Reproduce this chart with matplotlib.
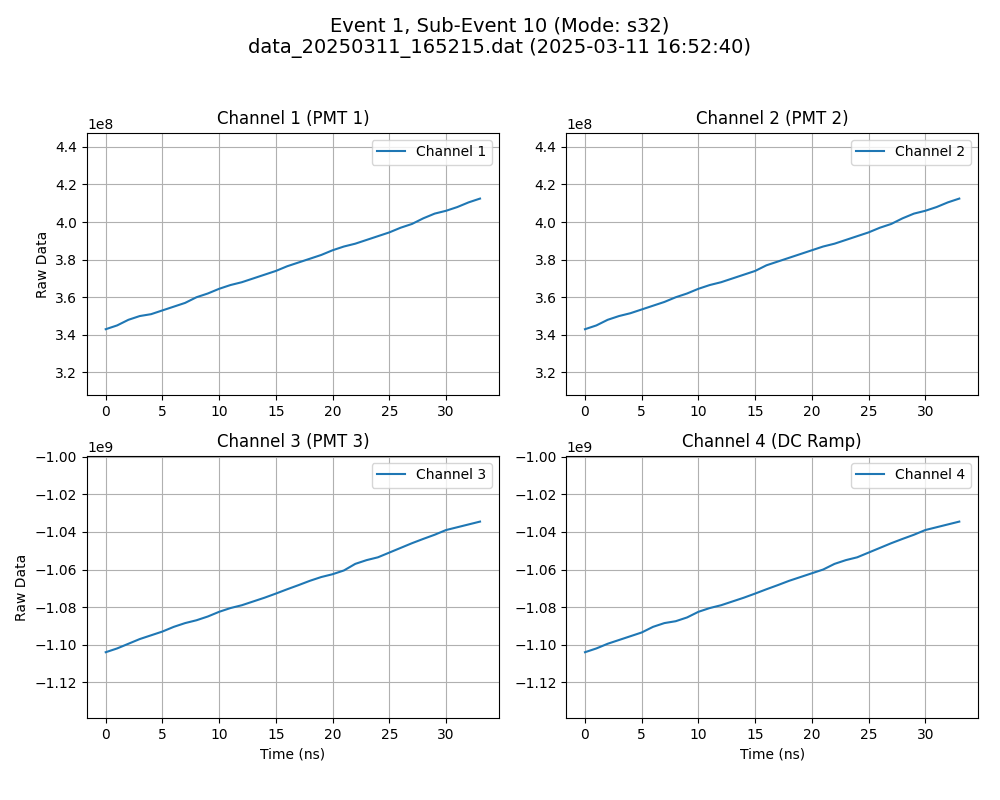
import matplotlib
matplotlib.use("Agg")
import matplotlib.pyplot as plt
import numpy as np

time_ns = list(range(34))
ch1 = [3.43, 3.45, 3.48, 3.50, 3.51, 3.53, 3.55, 3.57, 3.60, 3.62, 3.645, 3.665,
       3.68, 3.70, 3.72, 3.74, 3.765, 3.785, 3.805, 3.825, 3.85, 3.87, 3.885, 3.905,
       3.925, 3.945, 3.97, 3.99, 4.02, 4.045, 4.06, 4.08, 4.105, 4.125]
ch2 = [3.43, 3.45, 3.48, 3.50, 3.515, 3.535, 3.555, 3.575, 3.60, 3.62, 3.645, 3.665,
       3.68, 3.70, 3.72, 3.74, 3.77, 3.79, 3.81, 3.83, 3.85, 3.87, 3.885, 3.905,
       3.925, 3.945, 3.97, 3.99, 4.02, 4.045, 4.06, 4.08, 4.105, 4.125]
ch3 = [-1.104, -1.102, -1.0995, -1.097, -1.095, -1.093, -1.0905, -1.0885, -1.087,
       -1.085, -1.0825, -1.0805, -1.079, -1.077, -1.075, -1.0728, -1.0705, -1.0683,
       -1.066, -1.064, -1.0625, -1.0605, -1.057, -1.055, -1.0535, -1.051, -1.0485,
       -1.046, -1.0437, -1.0415, -1.039, -1.0375, -1.036, -1.0345]
ch4 = [-1.104, -1.102, -1.0995, -1.0975, -1.0955, -1.0935, -1.0905, -1.0885, -1.0875,
       -1.0855, -1.0825, -1.0805, -1.079, -1.077, -1.075, -1.0728, -1.0705, -1.0683,
       -1.066, -1.064, -1.062, -1.06, -1.057, -1.055, -1.0535, -1.051, -1.0485,
       -1.046, -1.0437, -1.0415, -1.039, -1.0375, -1.036, -1.0345]

channels = [
    ("Channel 1 (PMT 1)", "Channel 1", np.array(ch1) * 1e8),
    ("Channel 2 (PMT 2)", "Channel 2", np.array(ch2) * 1e8),
    ("Channel 3 (PMT 3)", "Channel 3", np.array(ch3) * 1e9),
    ("Channel 4 (DC Ramp)", "Channel 4", np.array(ch4) * 1e9),
]

fig, axes = plt.subplots(2, 2, figsize=(10, 8), dpi=100)
fig.suptitle("Event 1, Sub-Event 10 (Mode: s32)\ndata_20250311_165215.dat (2025-03-11 16:52:40)",
             fontsize=14)
for i, (ax, (title, label, vals)) in enumerate(zip(axes.flat, channels)):
    ax.plot(time_ns, vals, label=label)
    ax.set_title(title)
    ax.set_ylim(vals.min() - 3.5e7, vals.max() + 3.5e7)
    ax.grid(True)
    ax.legend(loc="upper right")
    if i % 2 == 0:
        ax.set_ylabel("Raw Data")
    if i >= 2:
        ax.set_xlabel("Time (ns)")

plt.subplots_adjust(left=0.087, right=0.978, top=0.834, bottom=0.1025,
                    wspace=0.164, hspace=0.232)
plt.savefig("out.png", dpi=100)
